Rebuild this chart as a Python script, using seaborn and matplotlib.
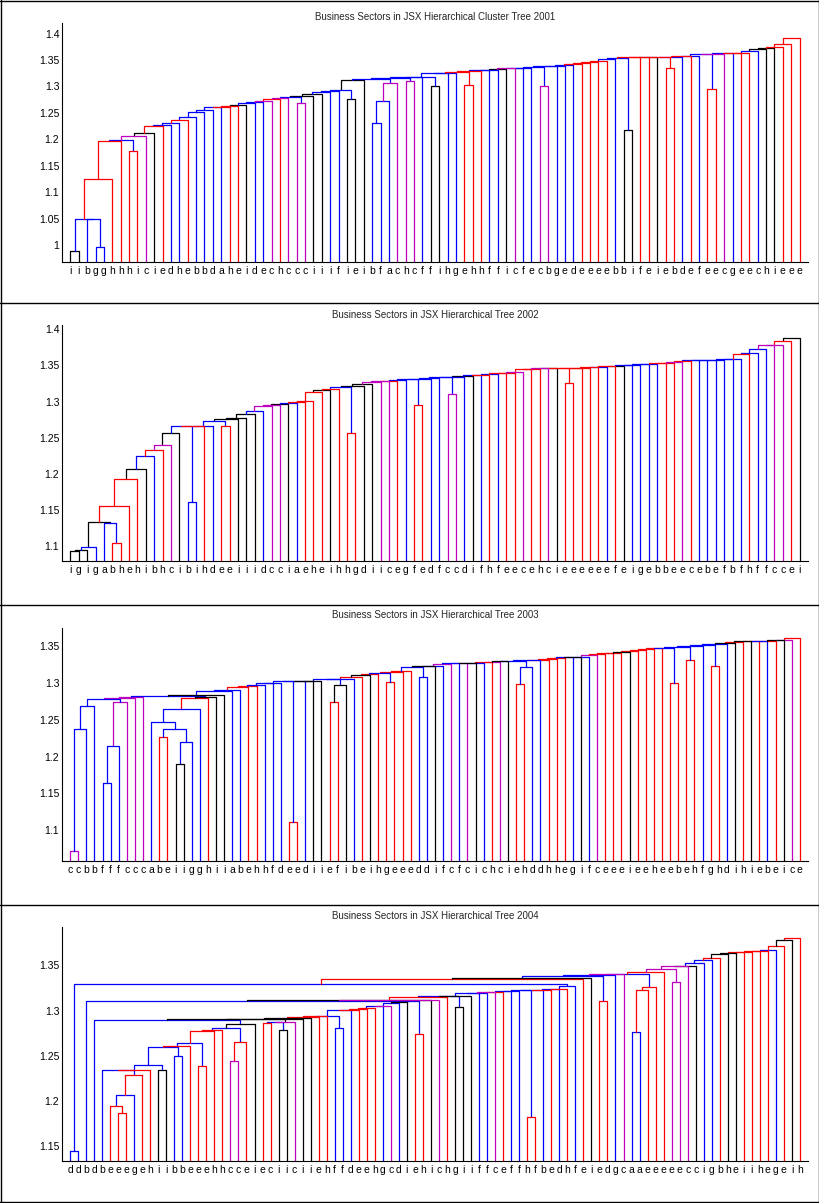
import numpy as np
import pandas as pd
import matplotlib
matplotlib.use("Agg")
import matplotlib.pyplot as plt
from matplotlib.lines import Line2D
import seaborn as sns

# ---------------- data ----------------
titles = [
    "Business Sectors in JSX Hierarchical Cluster Tree 2001",
    "Business Sectors in JSX Hierarchical Tree 2002",
    "Business Sectors in JSX Hierarchical Tree 2003",
    "Business Sectors in JSX Hierarchical Tree 2004",
]

labels_2001 = list("iibgghhhiciedhebbdaheidechccciiifieibfachcffihgehhfficfecbgedeeeebbifeiebdefeecgeechieee")
labels_2002 = list("igigabhehibhcibihdeeiiidcciaeheihhgdiicegfedfccdifhfeecehcieeeeeefeigebbeecebefbfhffccei")
labels_2003 = list("ccbbfffcccabeiigghiiabehhfdeediiefibeihgeeeddifcfcichciehddhhegifceeeieeheebehfghdihiebeice")
labels_2004 = list("ddbdbeeegehiibbeeehhcceieciiciiehffdeehgcdiehichgiiffceffhfbedhfeiedgcaaeeeeeccigbheiihegeih")

# merge height between neighbouring leaves (left to right)
gaps_2001 = [0.989, 1.0492, 1.0488, 0.9956, 1.1247, 1.197, 1.1994, 1.177, 1.2057, 1.212,
             1.2247, 1.228, 1.231, 1.236, 1.2425, 1.251, 1.255, 1.2605, 1.262, 1.2635,
             1.265, 1.268, 1.270, 1.273, 1.2765, 1.2785, 1.280, 1.269, 1.2817, 1.285,
             1.289, 1.2905, 1.2925, 1.277, 1.313, 1.3146, 1.231, 1.272, 1.307, 1.3165,
             1.310, 1.317, 1.3184, 1.3007, 1.3247, 1.326, 1.327, 1.3026, 1.329, 1.331,
             1.332, 1.3336, 1.334, 1.335, 1.3355, 1.3368, 1.3007, 1.338, 1.339, 1.340,
             1.342, 1.345, 1.347, 1.349, 1.3525, 1.3545, 1.2184, 1.3548, 1.355, 1.3553,
             1.3556, 1.3355, 1.3565, 1.357, 1.358, 1.361, 1.296, 1.3615, 1.3625, 1.3635,
             1.364, 1.367, 1.3715, 1.3735, 1.375, 1.381, 1.3925]
colors_2001 = list("kbbbrrbrmk" "rbbrbbbbrr" "kbbmrmbmkk" "bbbkkbbbmb"
                   "mbbkbbrrrb" "bkmbbbmbbb" "rrrrbbkrrk" "rrbrbbrmbr" "rbkkrrr")

gaps_2002 = [1.0935, 1.0954, 1.0990, 1.1331, 1.1328, 1.1050, 1.1556, 1.1935, 1.2074, 1.2245,
             1.2330, 1.2400, 1.2565, 1.2657, 1.1616, 1.2667, 1.2670, 1.2732, 1.2662, 1.2760,
             1.2770, 1.2829, 1.2870, 1.2940, 1.2950, 1.2970, 1.2980, 1.2995, 1.3014, 1.3130,
             1.3162, 1.3180, 1.3208, 1.2565, 1.3213, 1.3245, 1.3273, 1.3280, 1.3285, 1.3296,
             1.3310, 1.2958, 1.3320, 1.3330, 1.3338, 1.3100, 1.3347, 1.3360, 1.3366, 1.3375,
             1.3380, 1.3394, 1.3398, 1.3407, 1.3445, 1.3458, 1.3460, 1.3462, 1.3463, 1.3260,
             1.3468, 1.3472, 1.3480, 1.3486, 1.3490, 1.3495, 1.3505, 1.3510, 1.3514, 1.3519,
             1.3528, 1.3537, 1.3547, 1.3565, 1.3574, 1.3575, 1.3578, 1.3580, 1.3584, 1.3588,
             1.3662, 1.3676, 1.3732, 1.3778, 1.3787, 1.3838, 1.3884]
colors_2002 = list("kkbkbrrrkb" "rmkbbrbbrk" "kkbmmkbrrr" "krbrkkmmrb"
                   "brbbbmbkbr" "brrmrrmkrr" "rrrbrkbbbb" "rrmrbbbbbb" "rbbmmrk")

gaps_2003 = [1.0718, 1.2377, 1.269, 1.279, 1.1645, 1.215, 1.275, 1.280, 1.281, 1.2823,
             1.2477, 1.2273, 1.2377, 1.190, 1.220, 1.265, 1.2795, 1.2814, 1.2845, 1.2895,
             1.2905, 1.2941, 1.2955, 1.2968, 1.2995, 1.3005, 1.3023, 1.1114, 1.3027, 1.3030,
             1.3032, 1.3054, 1.274, 1.297, 1.306, 1.3077, 1.311, 1.3123, 1.3136, 1.3018,
             1.315, 1.3159, 1.3218, 1.3082, 1.3227, 1.3236, 1.3259, 1.3268, 1.3273, 1.3274,
             1.3277, 1.3282, 1.3286, 1.3295, 1.3304, 1.2986, 1.3218, 1.3309, 1.3318, 1.3332,
             1.3341, 1.335, 1.3351, 1.3355, 1.3377, 1.3391, 1.3405, 1.3414, 1.3418, 1.3436,
             1.3445, 1.3459, 1.3473, 1.3482, 1.300, 1.3491, 1.3314, 1.350, 1.3522, 1.3236,
             1.3532, 1.3545, 1.356, 1.3568, 1.3573, 1.3575, 1.3577, 1.3586, 1.359, 1.3618]
colors_2003 = list("mbbbbbmmmb" "brbkbbrkkb" "brrbbbbrbk" "kbrkbrkrbr"
                   "rrbbkbmbmk" "brmkbrbbrr" "rbkbmrrrkr" "rrrbrbrbbr" "bkrkrbrkmr")

gaps_2004 = [1.144, 1.3296, 1.3106, 1.2895, 1.2342, 1.1938, 1.1864, 1.206, 1.2287, 1.2344,
             1.2394, 1.2335, 1.2594, 1.2498, 1.2606, 1.264, 1.2383, 1.2773, 1.2784, 1.2806,
             1.2442, 1.2654, 1.2847, 1.2906, 1.2866, 1.2870, 1.2784, 1.2877, 1.2910, 1.2918,
             1.2932, 1.2936, 1.2943, 1.281, 1.3003, 1.3007, 1.302, 1.303, 1.3048, 1.3052,
             1.3078, 1.3096, 1.3104, 1.2736, 1.3112, 1.3118, 1.3147, 1.3162, 1.3044, 1.3166,
             1.3192, 1.3199, 1.3203, 1.3207, 1.3214, 1.3218, 1.3225, 1.182, 1.3229, 1.3233,
             1.3236, 1.3244, 1.3277, 1.3348, 1.3359, 1.3385, 1.3106, 1.3396, 1.3403, 1.3407,
             1.2765, 1.3229, 1.3266, 1.3425, 1.3465, 1.332, 1.3489, 1.3496, 1.3522, 1.3559,
             1.3581, 1.3626, 1.3641, 1.3652, 1.3655, 1.3659, 1.3663, 1.3667, 1.3715, 1.3778,
             1.3808]
colors_2004 = list("bbbbbrrbrr" "bkbbrbrrrb" "mrkkrbkmkk" "rrbbbrrrbm"
                   "bkbrkmrbkk" "bbmrbbbrbr" "brbrkbrbmb" "brrrmmmkbb" "rkkrrrrbrk" "r")

yticks_list = [
    [1.0, 1.05, 1.1, 1.15, 1.2, 1.25, 1.3, 1.35, 1.4],
    [1.1, 1.15, 1.2, 1.25, 1.3, 1.35, 1.4],
    [1.1, 1.15, 1.2, 1.25, 1.3, 1.35],
    [1.15, 1.2, 1.25, 1.3, 1.35],
]
ylims = [(0.968, 1.42), (1.0796, 1.406), (1.058, 1.375), (1.133, 1.3927)]

PALETTE = {"r": "#FF0000", "b": "#0000FF", "k": "#000000", "m": "#BF00BF"}


def dendro_frame(heights, colors):
    """Build U-shaped link segments (MATLAB style: node x = mean of children)."""
    n = len(heights) + 1
    xs = np.arange(1, n + 1, dtype=float)
    links = []

    def rec(lo, hi):
        if lo == hi:
            return xs[lo], 0.0
        k = lo + int(np.argmax(heights[lo:hi]))
        xl, yl = rec(lo, k)
        xr, yr = rec(k + 1, hi)
        h = heights[k]
        links.append((h, colors[k], xl, yl, xr, yr))
        return (xl + xr) / 2.0, h

    rec(0, n - 1)
    links.sort(key=lambda t: t[0])
    rows = []
    for i, (h, c, xl, yl, xr, yr) in enumerate(links):
        for j, (x, y) in enumerate([(xl, yl), (xl, h), (xr, h), (xr, yr)]):
            rows.append({"link": i, "order": j, "x": x, "y": y, "col": c})
    return pd.DataFrame(rows), xs


# ---------------- figure ----------------
sns.set_theme(style="white")
plt.rcParams["font.family"] = ["Liberation Sans", "DejaVu Sans"]

W, H = 820, 1203
fig = plt.figure(figsize=(W / 100, H / 100), dpi=100)

panels = [
    (labels_2001, gaps_2001, colors_2001, 23, 262, 17),
    (labels_2002, gaps_2002, colors_2002, 325, 561, 315),
    (labels_2003, gaps_2003, colors_2003, 628, 861, 615),
    (labels_2004, gaps_2004, colors_2004, 927, 1161, 916),
]
ax_left, ax_right = 62, 808

for p, (labels, gaps, cols, top, bot, ty) in enumerate(panels):
    ax = fig.add_axes([ax_left / W, 1 - bot / H, (ax_right - ax_left) / W, (bot - top) / H])
    df, xs = dendro_frame(np.array(gaps), cols)
    sns.lineplot(data=df, x="x", y="y", units="link", estimator=None, sort=False,
                 hue="col", palette=PALETTE, legend=False, linewidth=0.9, ax=ax)
    n = len(labels)
    ax.set_xlim(0, n + 1)
    ax.set_ylim(*ylims[p])
    ax.set_xticks(xs)
    ax.set_xticklabels(labels, fontsize=7.5)
    ax.set_yticks(yticks_list[p])
    ax.set_yticklabels([f"{v:g}" for v in yticks_list[p]], fontsize=7.5)
    ax.set_xlabel("")
    ax.set_ylabel("")
    for s in ("top", "right"):
        ax.spines[s].set_visible(False)
    for s in ("left", "bottom"):
        ax.spines[s].set_color("black")
        ax.spines[s].set_linewidth(0.8)
    ax.tick_params(axis="both", direction="in", length=4, width=0.7, color="black",
                   pad=2, labelcolor="black")
    ax.tick_params(axis="x", length=5, pad=3)
    ax.grid(False)
    fig.text(435 / W, 1 - ty / H, titles[p], ha="center", va="center", fontsize=7)

# panel frames
for yy in [1, 303, 605, 905, 1202]:
    fig.add_artist(Line2D([0, 1], [1 - yy / H, 1 - yy / H], color="black", lw=1,
                          transform=fig.transFigure))
for xx in [1, 819]:
    fig.add_artist(Line2D([xx / W, xx / W], [0, 1], color="black", lw=1,
                          transform=fig.transFigure))

fig.savefig("out.png", dpi=100)
